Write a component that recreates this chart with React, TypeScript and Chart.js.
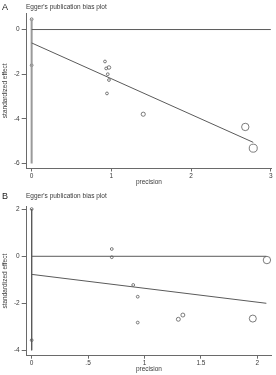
import React, { useEffect, useRef } from "react";
import { Chart, registerables } from "chart.js";

Chart.register(...registerables);

// ---------- Panel A data ----------
const precisionA = [0.92, 0.935, 0.97, 0.955, 0.97, 0.945, 1.4, 2.68, 2.78];
const effectA = [-1.43, -1.74, -1.7, -2.0, -2.26, -2.86, -3.79, -4.36, -5.31];
const weightA = [1, 1, 1.6, 1, 1, 1, 2.2, 7, 8.2];
const zeroLineXA = [0, 3];
const regLineXA = [0, 2.78];
const regLineYA = [-0.6, -5.05];
const ciLineYA = [0.46, -6.0];
const ciMarkYA = [0.46, -1.6];
const xTicksA = [0, 1, 2, 3];
const xTickLabelsA = ["0", "1", "2", "3"];
const yTicksA = [0, -2, -4, -6];
const yTickLabelsA = ["0", "-2", "-4", "-6"];

// ---------- Panel B data ----------
const precisionB = [0.71, 0.71, 0.9, 0.94, 0.94, 1.3, 1.34, 1.96, 2.085];
const effectB = [0.31, -0.04, -1.22, -1.72, -2.82, -2.68, -2.5, -2.65, -0.16];
const weightB = [1, 1, 1, 1, 1, 2, 2, 6.3, 7];
const zeroLineXB = [0, 2.08];
const regLineXB = [0, 2.08];
const regLineYB = [-0.77, -2.0];
const ciLineYB = [2.01, -4.0];
const ciMarkYB = [2.01, -3.57];
const xTicksB = [0, 0.5, 1, 1.5, 2];
const xTickLabelsB = ["0", ".5", "1", "1.5", "2"];
const yTicksB = [2, 0, -2, -4];
const yTickLabelsB = ["2", "0", "-2", "-4"];

const FONT = "'Liberation Sans', Arial, sans-serif";
const TEXT = "#3a3a3a";
const AXIS = "#6a6a6a";
const MARK = "#5a5a5a";

type PanelCfg = {
  precision: number[];
  effect: number[];
  weight: number[];
  zeroX: number[];
  regX: number[];
  regY: number[];
  ciY: number[];
  ciMark: number[];
  xTicks: number[];
  xLabels: string[];
  yTicks: number[];
  yLabels: string[];
  xMin: number;
  xMax: number;
  yMin: number;
  yMax: number;
  padTop: number;
  xHeight: number;
  ciWidth: number;
  ciColor: string;
};

function makeConfig(p: PanelCfg): any {
  const pts = p.precision.map((x, i) => ({ x, y: p.effect[i] }));
  const radii = p.weight.map((w) => 1.4 * Math.sqrt(w));
  return {
    type: "scatter",
    data: {
      datasets: [
        {
          data: p.zeroX.map((x) => ({ x, y: 0 })),
          showLine: true,
          borderColor: MARK,
          borderWidth: 1,
          pointRadius: 0,
        },
        {
          data: p.regX.map((x, i) => ({ x, y: p.regY[i] })),
          showLine: true,
          borderColor: MARK,
          borderWidth: 1,
          pointRadius: 0,
        },
        {
          data: p.ciY.map((y) => ({ x: 0, y })),
          showLine: true,
          borderColor: p.ciColor,
          borderWidth: p.ciWidth,
          pointRadius: 0,
        },
        {
          data: p.ciMark.map((y) => ({ x: 0, y })),
          showLine: false,
          pointRadius: 1.4,
          pointBorderWidth: 0.8,
          pointBorderColor: MARK,
          pointBackgroundColor: "#ffffff",
        },
        {
          data: pts,
          showLine: false,
          pointRadius: radii,
          pointBorderWidth: 0.8,
          pointBorderColor: MARK,
          pointBackgroundColor: "rgba(255,255,255,0)",
        },
      ].map((d) => ({ ...d, clip: false })),
    },
    options: {
      animation: false,
      responsive: false,
      maintainAspectRatio: false,
      events: [],
      layout: { padding: { top: p.padTop, right: 2.7, left: 0, bottom: 0 } },
      plugins: { legend: { display: false }, tooltip: { enabled: false }, title: { display: false } },
      scales: {
        x: {
          type: "linear",
          min: p.xMin,
          max: p.xMax,
          afterBuildTicks: (s: any) => {
            s.ticks = p.xTicks.map((v) => ({ value: v }));
          },
          afterFit: (s: any) => {
            s.height = p.xHeight;
          },
          ticks: {
            autoSkip: false,
            maxRotation: 0,
            padding: 1,
            color: TEXT,
            font: { family: FONT, size: 6.5 },
            callback: (v: number) => {
              const i = p.xTicks.indexOf(v);
              return i >= 0 ? p.xLabels[i] : "";
            },
          },
          grid: { drawOnChartArea: false, drawTicks: true, tickLength: 3, color: AXIS, lineWidth: 1 },
          border: { display: true, color: AXIS, width: 1 },
          title: {
            display: true,
            text: "precision",
            color: TEXT,
            font: { family: FONT, size: 6.5 },
            padding: { top: 0, bottom: 1.5 },
          },
        },
        y: {
          type: "linear",
          min: p.yMin,
          max: p.yMax,
          afterBuildTicks: (s: any) => {
            s.ticks = p.yTicks.map((v) => ({ value: v }));
          },
          afterFit: (s: any) => {
            s.width = 26.7;
          },
          ticks: {
            autoSkip: false,
            padding: 2,
            color: TEXT,
            font: { family: FONT, size: 6.5 },
            callback: (v: number) => {
              const i = p.yTicks.indexOf(v);
              return i >= 0 ? p.yLabels[i] : "";
            },
          },
          grid: { drawOnChartArea: false, drawTicks: true, tickLength: 5, color: AXIS, lineWidth: 1 },
          border: { display: true, color: AXIS, width: 1 },
          title: {
            display: true,
            text: "standardized effect",
            color: TEXT,
            font: { family: FONT, size: 6.5 },
            padding: { top: 1, bottom: 0 },
          },
        },
      },
    },
  };
}

function Panel({ cfg, height, letter, top }: { cfg: PanelCfg; height: number; letter: string; top: number }) {
  const ref = useRef<HTMLCanvasElement | null>(null);
  useEffect(() => {
    if (!ref.current) return;
    const chart = new Chart(ref.current, makeConfig(cfg));
    return () => chart.destroy();
  }, []);
  return (
    <div style={{ position: "absolute", left: 0, top, width: 276, height }}>
      <canvas ref={ref} width={276} height={height} style={{ display: "block", width: 276, height }} />
      <div
        style={{
          position: "absolute",
          left: 2,
          top: letter === "A" ? 2 : 3,
          fontFamily: FONT,
          fontSize: 9,
          lineHeight: "10px",
          color: "#222",
        }}
      >
        {letter}
      </div>
      <div
        style={{
          position: "absolute",
          left: 26,
          top: letter === "A" ? 3 : 4,
          fontFamily: FONT,
          fontSize: 6.5,
          lineHeight: "8px",
          color: TEXT,
          whiteSpace: "nowrap",
        }}
      >
        Egger's publication bias plot
      </div>
    </div>
  );
}

const cfgA: PanelCfg = {
  precision: precisionA,
  effect: effectA,
  weight: weightA,
  zeroX: zeroLineXA,
  regX: regLineXA,
  regY: regLineYA,
  ciY: ciLineYA,
  ciMark: ciMarkYA,
  xTicks: xTicksA,
  xLabels: xTickLabelsA,
  yTicks: yTicksA,
  yLabels: yTickLabelsA,
  xMin: -0.062,
  xMax: 3.005,
  yMin: -6.22,
  yMax: 0.74,
  padTop: 13,
  xHeight: 19.5,
  ciWidth: 2,
  ciColor: "#9a9a9a",
};

const cfgB: PanelCfg = {
  precision: precisionB,
  effect: effectB,
  weight: weightB,
  zeroX: zeroLineXB,
  regX: regLineXB,
  regY: regLineYB,
  ciY: ciLineYB,
  ciMark: ciMarkYB,
  xTicks: xTicksB,
  xLabels: xTickLabelsB,
  yTicks: yTicksB,
  yLabels: yTickLabelsB,
  xMin: -0.044,
  xMax: 2.123,
  yMin: -4.23,
  yMax: 2.11,
  padTop: 18.7,
  xHeight: 19.3,
  ciWidth: 1,
  ciColor: MARK,
};

export default function App() {
  return (
    <div style={{ position: "fixed", left: 0, top: 0, width: 276, height: 375, background: "#fff", overflow: "hidden" }}>
      <Panel cfg={cfgA} height={188} letter="A" top={0} />
      <Panel cfg={cfgB} height={187} letter="B" top={188} />
    </div>
  );
}
